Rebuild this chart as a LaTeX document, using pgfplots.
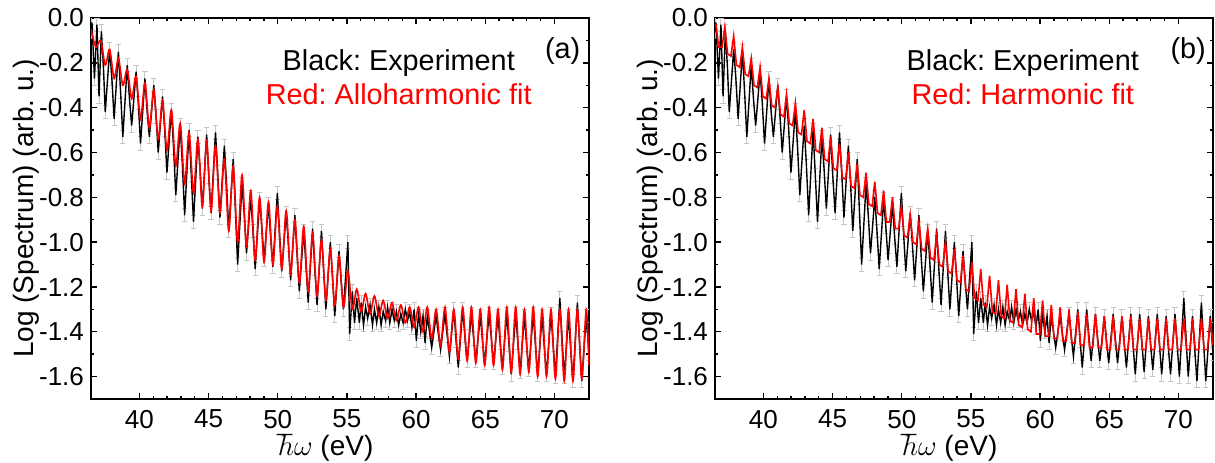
\documentclass[border=0pt]{standalone}
\usepackage{fontspec}
\setmainfont{Liberation Sans}
\frenchspacing
\usepackage{pgfplots}
\usepackage{pgfplotstable}
\pgfplotsset{compat=1.18}

% measured spectrum (same in both panels)
\pgfplotstableread{
x y
36.50 -0.06
36.57 -0.02
36.75 -0.27
36.93 -0.03
37.08 -0.35
37.25 -0.06
37.40 -0.22
37.53 -0.42
37.85 -0.14
38.01 -0.27
38.17 -0.45
38.48 -0.15
38.64 -0.33
38.80 -0.53
39.12 -0.21
39.28 -0.36
39.44 -0.48
39.76 -0.24
39.92 -0.38
40.08 -0.56
40.40 -0.27
40.56 -0.42
40.72 -0.53
41.04 -0.30
41.20 -0.44
41.36 -0.60
41.67 -0.35
41.83 -0.50
41.99 -0.69
42.31 -0.41
42.47 -0.58
42.63 -0.79
42.95 -0.48
43.11 -0.66
43.27 -0.88
43.59 -0.50
43.75 -0.70
43.91 -0.91
44.23 -0.53
44.39 -0.68
44.55 -0.85
44.86 -0.52
45.02 -0.71
45.18 -0.87
45.50 -0.51
45.66 -0.69
45.82 -0.89
46.14 -0.57
46.30 -0.74
46.46 -0.95
46.78 -0.63
46.94 -0.86
47.10 -1.10
47.42 -0.74
47.58 -0.88
47.74 -1.05
48.05 -0.80
48.21 -0.95
48.37 -1.12
48.69 -0.81
48.85 -0.93
49.01 -1.08
49.33 -0.83
49.49 -0.98
49.65 -1.11
49.97 -0.78
50.13 -0.96
50.29 -1.13
50.61 -0.87
50.77 -1.01
50.93 -1.17
51.24 -0.88
51.40 -1.06
51.56 -1.22
51.88 -0.95
52.04 -1.10
52.20 -1.27
52.52 -0.94
52.68 -1.12
52.84 -1.28
53.16 -0.95
53.32 -1.13
53.48 -1.30
53.80 -1.00
53.96 -1.16
54.12 -1.33
54.43 -1.04
54.59 -1.18
54.75 -1.30
55.07 -1.00
55.20 -1.41
55.39 -1.22
55.55 -1.36
55.71 -1.25
55.90 -1.36
56.03 -1.27
56.20 -1.37
56.35 -1.29
56.50 -1.34
56.67 -1.28
56.85 -1.37
56.99 -1.30
57.15 -1.36
57.31 -1.29
57.47 -1.37
57.62 -1.31
57.80 -1.35
57.94 -1.29
58.10 -1.36
58.26 -1.30
58.42 -1.35
58.58 -1.31
58.74 -1.37
58.90 -1.32
59.06 -1.36
59.22 -1.30
59.38 -1.35
59.54 -1.31
59.70 -1.38
59.86 -1.30
60.02 -1.44
60.18 -1.32
60.34 -1.40
60.50 -1.33
60.65 -1.45
60.81 -1.33
60.97 -1.40
61.13 -1.47
61.45 -1.33
61.61 -1.41
61.77 -1.48
62.09 -1.32
62.25 -1.42
62.41 -1.51
62.73 -1.30
62.89 -1.44
63.05 -1.56
63.37 -1.30
63.53 -1.42
63.69 -1.53
64.00 -1.32
64.16 -1.43
64.32 -1.53
64.64 -1.33
64.80 -1.44
64.96 -1.54
65.28 -1.32
65.44 -1.43
65.60 -1.54
65.92 -1.33
66.08 -1.45
66.24 -1.56
66.56 -1.32
66.72 -1.46
66.88 -1.59
67.20 -1.32
67.36 -1.45
67.52 -1.58
67.83 -1.33
67.99 -1.46
68.15 -1.57
68.47 -1.32
68.63 -1.46
68.79 -1.59
69.11 -1.33
69.27 -1.47
69.43 -1.59
69.75 -1.32
69.91 -1.46
70.07 -1.60
70.39 -1.25
70.55 -1.43
70.71 -1.60
71.02 -1.33
71.18 -1.48
71.34 -1.62
71.66 -1.27
71.82 -1.45
71.98 -1.62
72.30 -1.33
72.50 -1.50
}\expdata

% alloharmonic fit
\pgfplotstableread{
x y
36.50 -0.05
36.85 -0.13
37.21 -0.10
37.53 -0.21
37.85 -0.14
38.17 -0.27
38.48 -0.18
38.80 -0.30
39.12 -0.23
39.44 -0.36
39.76 -0.26
40.08 -0.45
40.40 -0.29
40.72 -0.49
41.04 -0.32
41.36 -0.54
41.67 -0.37
41.99 -0.59
42.31 -0.41
42.63 -0.66
42.95 -0.47
43.27 -0.74
43.59 -0.51
43.91 -0.78
44.23 -0.54
44.55 -0.84
44.86 -0.55
45.18 -0.86
45.50 -0.57
45.82 -0.87
46.14 -0.63
46.46 -0.95
46.78 -0.66
47.10 -1.00
47.42 -0.70
47.74 -1.02
48.05 -0.77
48.37 -1.08
48.69 -0.80
49.01 -1.09
49.33 -0.82
49.65 -1.10
49.97 -0.84
50.29 -1.12
50.61 -0.86
50.93 -1.14
51.24 -0.90
51.56 -1.18
51.88 -0.93
52.20 -1.22
52.52 -0.96
52.84 -1.24
53.16 -0.99
53.48 -1.26
53.80 -1.03
54.12 -1.28
54.43 -1.06
54.75 -1.29
55.07 -1.13
55.39 -1.30
55.71 -1.21
56.03 -1.31
56.35 -1.23
56.67 -1.32
56.99 -1.24
57.31 -1.33
57.62 -1.26
57.94 -1.34
58.26 -1.27
58.58 -1.35
58.90 -1.28
59.22 -1.36
59.54 -1.29
59.86 -1.38
60.18 -1.29
60.50 -1.40
60.81 -1.29
61.13 -1.43
61.45 -1.30
61.77 -1.46
62.09 -1.29
62.41 -1.49
62.73 -1.30
63.05 -1.52
63.37 -1.29
63.69 -1.53
64.00 -1.29
64.32 -1.54
64.64 -1.30
64.96 -1.55
65.28 -1.29
65.60 -1.55
65.92 -1.30
66.24 -1.57
66.56 -1.29
66.88 -1.58
67.20 -1.29
67.52 -1.59
67.83 -1.30
68.15 -1.58
68.47 -1.29
68.79 -1.60
69.11 -1.30
69.43 -1.60
69.75 -1.30
70.07 -1.61
70.39 -1.30
70.71 -1.62
71.02 -1.30
71.34 -1.62
71.66 -1.30
71.98 -1.61
72.30 -1.30
72.50 -1.55
}\allodata

% harmonic fit
\pgfplotstableread{
x y
36.50 -0.03
36.57 -0.03
36.77 -0.13
37.01 -0.13
37.21 -0.04
37.41 -0.16
37.65 -0.17
37.85 -0.08
38.05 -0.21
38.29 -0.22
38.48 -0.13
38.68 -0.25
38.92 -0.26
39.12 -0.18
39.32 -0.30
39.56 -0.31
39.76 -0.22
39.96 -0.35
40.20 -0.36
40.40 -0.27
40.60 -0.39
40.84 -0.40
41.04 -0.31
41.24 -0.43
41.48 -0.44
41.67 -0.34
41.87 -0.47
42.11 -0.48
42.31 -0.38
42.51 -0.51
42.75 -0.52
42.95 -0.41
43.15 -0.55
43.39 -0.56
43.59 -0.45
43.79 -0.59
44.03 -0.60
44.23 -0.49
44.43 -0.63
44.67 -0.64
44.86 -0.53
45.06 -0.67
45.30 -0.68
45.50 -0.56
45.70 -0.71
45.94 -0.72
46.14 -0.60
46.34 -0.75
46.58 -0.76
46.78 -0.65
46.98 -0.79
47.22 -0.80
47.42 -0.69
47.62 -0.83
47.86 -0.84
48.05 -0.73
48.25 -0.87
48.49 -0.88
48.69 -0.77
48.89 -0.91
49.13 -0.91
49.33 -0.80
49.53 -0.94
49.77 -0.94
49.97 -0.84
50.17 -0.97
50.41 -0.98
50.61 -0.88
50.81 -1.00
51.05 -1.01
51.24 -0.91
51.44 -1.03
51.68 -1.04
51.88 -0.94
52.08 -1.07
52.32 -1.08
52.52 -0.97
52.72 -1.10
52.96 -1.11
53.16 -1.00
53.36 -1.13
53.60 -1.14
53.80 -1.03
54.00 -1.17
54.24 -1.18
54.43 -1.06
54.63 -1.21
54.87 -1.22
55.07 -1.09
55.27 -1.25
55.51 -1.26
55.71 -1.12
55.91 -1.28
56.15 -1.29
56.35 -1.15
56.55 -1.31
56.79 -1.32
56.99 -1.17
57.19 -1.33
57.43 -1.34
57.62 -1.19
57.82 -1.35
58.06 -1.36
58.26 -1.21
58.46 -1.37
58.70 -1.38
58.90 -1.23
59.10 -1.39
59.34 -1.40
59.54 -1.25
59.74 -1.41
59.98 -1.41
60.18 -1.26
60.38 -1.42
60.62 -1.42
60.81 -1.28
61.01 -1.43
61.25 -1.43
61.45 -1.29
61.65 -1.44
61.89 -1.44
62.09 -1.30
62.29 -1.45
62.53 -1.45
62.73 -1.31
62.93 -1.46
63.17 -1.46
63.37 -1.32
63.57 -1.47
63.81 -1.47
64.00 -1.32
64.20 -1.47
64.44 -1.47
64.64 -1.33
64.84 -1.48
65.08 -1.48
65.28 -1.33
65.48 -1.48
65.72 -1.48
65.92 -1.33
66.12 -1.48
66.36 -1.48
66.56 -1.33
66.76 -1.48
67.00 -1.48
67.20 -1.34
67.40 -1.48
67.64 -1.48
67.83 -1.34
68.03 -1.48
68.27 -1.48
68.47 -1.34
68.67 -1.48
68.91 -1.48
69.11 -1.34
69.31 -1.48
69.55 -1.48
69.75 -1.34
69.95 -1.48
70.19 -1.48
70.39 -1.34
70.59 -1.48
70.83 -1.48
71.02 -1.34
71.22 -1.48
71.46 -1.48
71.66 -1.34
71.86 -1.48
72.10 -1.48
72.30 -1.34
72.50 -1.46
}\harmdata

\pgfplotsset{
  specax/.style={
    scale only axis, width=249pt, height=190.5pt,
    xmin=36.5, xmax=72.5, ymin=-1.7, ymax=0.0,
    xtick={40,45,50,55,60,65,70},
    xticklabels={40,45,50,55,60,65,70},
    ytick={-1.6,-1.4,-1.2,-1.0,-0.8,-0.6,-0.4,-0.2,0},
    yticklabels={-1.6,-1.4,-1.2,-1.0,-0.8,-0.6,-0.4,-0.2,0.0},
    minor x tick num=4, minor y tick num=1,
    major tick length=3pt, minor tick length=1.6pt,
    every tick/.style={black, line width=0.7pt},
    axis line style={line width=1pt},
    tick label style={font=\fontsize{13}{15}\selectfont},
    xticklabel style={yshift=-2pt},
    label style={font=\fontsize{14}{16}\selectfont},
    xlabel={$\hbar\omega$ (eV)},
    ylabel={Log (Spectrum) (arb. u.)},
    xlabel style={at={(axis description cs:0.47,-0.128)}, anchor=center},
    ylabel style={at={(axis description cs:-0.13,0.5)}, anchor=center},
  },
  errplot/.style={forget plot, draw=none, mark=none,
    error bars/.cd, y dir=both, y fixed=0.03,
    error bar style={draw=gray!45, line width=0.5pt, solid},
    error mark options={draw=gray!45, rotate=90, mark size=1.3pt, line width=0.5pt}},
}

\begin{document}
\begin{tikzpicture}
\begin{axis}[specax, at={(45.5pt,31.5pt)}, anchor=south west]
\addplot[errplot] table {\expdata};
\addplot[black, line width=0.7pt] table {\expdata};
\addplot[red, line width=0.8pt, smooth] table {\allodata};
\node[font=\fontsize{14.4}{16}\selectfont, anchor=base] at (rel axis cs:0.618,0.8635) {Black: Experiment};
\node[font=\fontsize{14.4}{16}\selectfont, anchor=base, text=red] at (rel axis cs:0.618,0.772) {Red: Alloharmonic fit};
\node[font=\fontsize{14.4}{16}\selectfont, anchor=base] at (rel axis cs:0.947,0.895) {(a)};
\end{axis}
\begin{axis}[specax, at={(357.5pt,31.5pt)}, anchor=south west]
\addplot[errplot] table {\expdata};
\addplot[black, line width=0.7pt] table {\expdata};
\addplot[red, line width=0.8pt] table {\harmdata};
\node[font=\fontsize{14.4}{16}\selectfont, anchor=base] at (rel axis cs:0.618,0.8635) {Black: Experiment};
\node[font=\fontsize{14.4}{16}\selectfont, anchor=base, text=red] at (rel axis cs:0.618,0.772) {Red: Harmonic fit};
\node[font=\fontsize{14.4}{16}\selectfont, anchor=base] at (rel axis cs:0.95,0.895) {(b)};
\end{axis}
\pgfresetboundingbox
\path[use as bounding box] (0,0) rectangle (607.5pt,231pt);
\end{tikzpicture}
\end{document}
